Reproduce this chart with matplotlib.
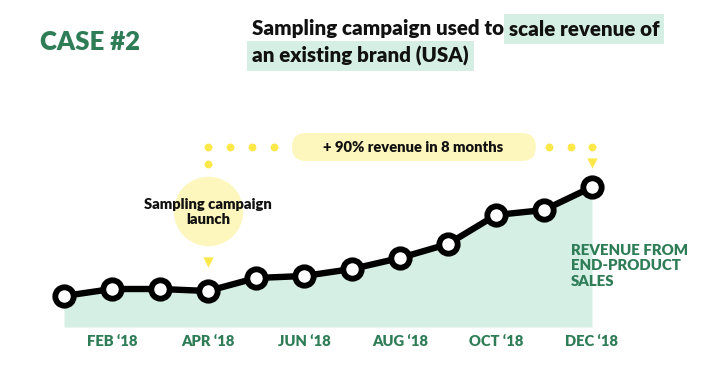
import matplotlib
matplotlib.use('Agg')
import matplotlib.pyplot as plt
from matplotlib.patches import FancyBboxPatch

# datos (indice de ingresos, unidades arbitrarias)
months = ['JAN', 'FEB', 'MAR', 'APR', 'MAY', 'JUN', 'JUL', 'AUG', 'SEP', 'OCT', 'NOV', 'DEC']
revenue = [31, 38, 38, 36, 49, 51, 58, 69, 83, 112, 117, 140]
tick_idx = [1, 3, 5, 7, 9, 11]
tick_labels = ["FEB \u201818", "APR \u201818", "JUN \u201818", "AUG \u201818", "OCT \u201818", "DEC \u201818"]
launch_idx = 3
end_idx = 11

green = '#2e7d57'
mint = '#d5efe4'
yellow = '#fde84a'
pale_yellow = '#fdf7bd'
wt = 'heavy'

plt.rcParams['font.family'] = ['Lato', 'DejaVu Sans']

W, H = 717, 373
fig = plt.figure(figsize=(W / 100, H / 100), dpi=100)
ax = fig.add_axes([0, 0, 1, 1])
# 48 px por mes, 1 px por unidad
ax.set_xlim(-64 / 48, (W - 64) / 48)
ax.set_ylim(327 - H, 327)
ax.axis('off')

x = list(range(len(months)))
ax.fill_between(x, revenue, 0, color=mint, lw=0, zorder=1)
ax.plot(x, revenue, color='black', lw=4.6, zorder=3, solid_capstyle='round')
ax.scatter(x, revenue, s=175, facecolor='white', edgecolor='black', linewidths=4.2, zorder=4)

for i, lab in zip(tick_idx, tick_labels):
    ax.text(i, -14, lab, ha='center', va='center', color=green, fontsize=10.6, fontweight=wt)

# etiqueta de la serie
ax.text(end_idx - 0.44, 61, 'REVENUE FROM\nEND-PRODUCT\nSALES', ha='left', va='center',
        color=green, fontsize=10.8, fontweight=wt, linespacing=1.2)

# globo del lanzamiento
ax.scatter([launch_idx], [116], s=2500, color=pale_yellow, lw=0, zorder=2)
ax.text(launch_idx, 115, 'Sampling campaign\nlaunch', ha='center', va='center',
        multialignment='center', fontsize=10.6, fontweight=wt, color='#111111',
        zorder=5, linespacing=1.25)
ax.scatter([launch_idx], [65], marker='v', s=55, color=yellow, lw=0, zorder=5)

# puntos amarillos y pastilla
dot_y = 180
dots_x = [launch_idx, launch_idx + 0.46, launch_idx + 0.92, launch_idx + 1.38,
          end_idx - 0.90, end_idx - 0.44, end_idx]
ax.scatter(dots_x, [dot_y] * len(dots_x), s=32, color=yellow, lw=0, zorder=5)
ax.scatter([launch_idx], [163], s=32, color=yellow, lw=0, zorder=5)
ax.scatter([end_idx], [164], marker='v', s=55, color=yellow, lw=0, zorder=5)

pill = FancyBboxPatch((4.75, 166), 5.08, 28, boxstyle='round,pad=0,rounding_size=0.29',
                      mutation_aspect=48, facecolor=pale_yellow, edgecolor='none', zorder=2)
ax.add_patch(pill)
ax.text(7.27, 179.5, '+ 90% revenue in 8 months', ha='center', va='center',
        fontsize=10.6, fontweight=wt, color='#111111', zorder=5)

# titulos
fig.text(40 / W, 1 - 42 / H, 'CASE #2', color=green, fontsize=18.5, fontweight=wt,
         ha='left', va='center')

fig.canvas.draw()
r = fig.canvas.get_renderer()
t1 = fig.text(252 / W, 1 - 29 / H, 'Sampling campaign used to ', fontsize=14.8,
              fontweight=wt, color='#111111', ha='left', va='center')
bb = t1.get_window_extent(renderer=r)
hl = dict(boxstyle='square,pad=0.25', facecolor=mint, edgecolor='none')
fig.text(bb.x1 / W, 1 - 29 / H, 'scale revenue of', fontsize=14.8, fontweight=wt,
         color='#111111', ha='left', va='center', bbox=hl)
fig.text(252 / W, 1 - 56 / H, 'an existing brand (USA)', fontsize=14.8, fontweight=wt,
         color='#111111', ha='left', va='center', bbox=hl)

fig.savefig('out.png', dpi=100, facecolor='white')
